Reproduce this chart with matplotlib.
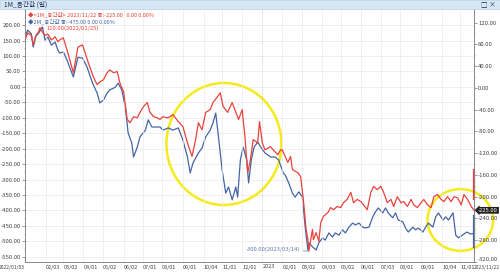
import pandas as pd
import matplotlib.pyplot as plt
from matplotlib.patches import Ellipse, Rectangle
from matplotlib.ticker import AutoMinorLocator, FormatStrFormatter
import matplotlib.transforms as mtrans

plt.rcParams['font.family'] = ['Noto Sans CJK KR', 'DejaVu Sans']

# trading-day positions (0 = 2022/01/03) and values
red_t = [0, 3, 7, 9, 12, 15, 16, 22, 25, 29, 33, 36, 38, 42, 46, 53, 58, 63, 66, 69,
         75, 79, 82, 86, 90, 93, 97, 101, 104, 108, 112, 115, 119, 123, 126, 130, 134, 137, 141, 145,
         148, 151, 156, 159, 162, 168, 173, 178, 183, 187, 190, 194, 198, 203, 206, 211, 214, 217, 222, 227,
         231, 234, 238, 241, 244, 247, 250, 255, 257, 260, 263, 269, 272, 277, 280, 282, 288, 291, 293, 299,
         302, 305, 308, 310, 311, 315, 316, 319, 322, 324, 327, 332, 335, 338, 342, 346, 349, 353, 357, 360,
         364, 368, 371, 375, 379, 382, 386, 390, 393, 397, 401, 404, 408, 412, 415, 419, 423, 426, 430, 434,
         437, 441, 445, 448, 452, 456, 459, 463, 467, 470, 474, 478, 481, 485, 489, 492]
red_v = [88, 101, 96, 79, 97, 103, 110, 96, 99, 88, 94, 85, 88, 92, 70, 28, 75, 79, 64, 48,
         20, 6, 11, 15, 28, 33, 28, 30, 9, -7, -58, -64, -53, -55, -45, -34, -27, -45, -53, -55,
         -58, -53, -55, -53, -49, -62, -71, -101, -126, -95, -64, -77, -45, -40, -27, -16, -9, -34, -45, -27,
         -45, -58, -40, -90, -156, -132, -95, -101, -62, -101, -114, -108, -114, -123, -114, -114, -137, -126, -150, -156,
         -163, -205, -260, -279, -300, -260, -279, -266, -282, -248, -236, -229, -220, -224, -218, -220, -211, -205, -192, -211,
         -205, -209, -215, -224, -192, -181, -187, -181, -192, -211, -205, -218, -200, -211, -209, -218, -205, -215, -220, -211,
         -205, -215, -220, -200, -196, -205, -209, -200, -209, -200, -202, -215, -196, -205, -218, -225]

blue_t = [0, 3, 7, 9, 12, 15, 19, 22, 25, 29, 33, 36, 38, 42, 46, 53, 58, 63, 68, 74,
          79, 82, 86, 90, 93, 99, 102, 106, 110, 113, 117, 119, 123, 126, 132, 135, 139, 145, 148, 151,
          157, 162, 168, 173, 178, 181, 184, 190, 194, 198, 203, 206, 209, 212, 216, 220, 223, 227, 231, 233,
          236, 239, 243, 245, 248, 251, 255, 259, 263, 269, 274, 278, 283, 285, 289, 293, 296, 300, 304, 307,
          310, 311, 315, 319, 322, 326, 329, 333, 337, 340, 344, 348, 351, 355, 359, 362, 366, 370, 373, 377,
          381, 384, 387, 392, 395, 398, 403, 406, 409, 414, 417, 420, 425, 428, 431, 436, 439, 442, 447, 450,
          453, 458, 461, 464, 469, 472, 475, 478, 484, 488, 492]
blue_v = [161, 184, 171, 129, 164, 174, 194, 151, 161, 135, 145, 119, 109, 113, 87, 32, 96, 93, 64, 12,
          -20, -52, -43, -20, -10, -1, 12, -10, -65, -149, -182, -227, -195, -162, -140, -107, -130, -130, -130, -140,
          -133, -140, -133, -172, -227, -279, -247, -214, -198, -162, -140, -117, -85, -162, -269, -344, -324, -366, -324, -357,
          -237, -195, -237, -311, -237, -195, -179, -198, -214, -227, -227, -237, -279, -285, -311, -344, -357, -340, -357, -454,
          -528, -505, -518, -528, -505, -489, -496, -473, -486, -473, -480, -463, -473, -454, -441, -447, -441, -454, -457, -454,
          -421, -405, -392, -408, -392, -408, -424, -408, -431, -437, -457, -470, -454, -463, -457, -470, -454, -441, -454, -421,
          -408, -431, -421, -431, -408, -480, -489, -483, -470, -476, -475]

tick_dates = ['2022-01-03', '2022-02-03', '2022-03-02', '2022-04-01', '2022-05-02', '2022-06-02',
              '2022-07-01', '2022-08-01', '2022-09-01', '2022-10-04', '2022-11-01', '2022-12-01',
              '2023-01-02', '2023-02-01', '2023-03-02', '2023-04-03', '2023-05-02', '2023-06-01',
              '2023-07-03', '2023-08-01', '2023-09-01', '2023-10-04', '2023-11-01', '2023-11-22']
tick_labels = ['2022/01/03', '02/03', '03/02', '04/01', '05/02', '06/02', '07/01', '08/01', '09/01',
               '10/04', '11/01', '12/01', '2023', '02/01', '03/02', '04/03', '05/02', '06/01',
               '07/03', '08/01', '09/01', '10/04', '11/01', '2023/11/22']

RED = '#e8423c'
BLUE = '#4565a5'
TXT = '#444444'

cal = pd.bdate_range('2022-01-03', '2023-11-22')
tick_pos = cal.get_indexer(pd.to_datetime(tick_dates))

fig = plt.figure(figsize=(5, 2.72), dpi=100)
W, H = 500, 272

# title bar
fig.patches.append(Rectangle((0, 1 - 9 / H), 1, 9 / H, transform=fig.transFigure,
                             facecolor='#d6e6f4', edgecolor='#b9cfe4', lw=0.5))
fig.text(4 / W, 1 - 4.5 / H, '1M_응간값 (일)', fontsize=4.8, color='#1d2f55', va='center')
fig.text(488 / W, 1 - 4.5 / H, '□ ×', fontsize=4.8, color='#1d2f55', va='center', ha='center')

ax = fig.add_axes([25 / W, 1 - 262 / H, 449 / W, 253 / H])
ax2 = ax.twinx()

ax.plot(blue_t, blue_v, color=BLUE, lw=0.9)
ax2.plot(red_t, red_v, color=RED, lw=0.9)

ax.set_xlim(0, len(cal) - 1)
ax.set_ylim(-567, 252)
ax2.set_ylim(-320, 145)

ax.set_yticks(range(-550, 201, 50))
ax2.set_yticks(range(-320, 121, 40))
for a in (ax, ax2):
    a.yaxis.set_major_formatter(FormatStrFormatter('%.2f'))
    a.yaxis.set_minor_locator(AutoMinorLocator(2))
    a.tick_params(axis='y', labelsize=4.3, labelcolor=TXT, length=2, width=0.5, color='#777777', pad=1)
    a.tick_params(axis='y', which='minor', length=1, width=0.4, color='#777777')
    for s in a.spines.values():
        s.set_color('#888888')
        s.set_linewidth(0.6)
    a.spines['top'].set_visible(False)
# lowest right label sits just above the date row
ax2.get_yticklabels()[0].set_va('bottom')

ax.set_xticks(tick_pos)
ax.set_xticklabels(tick_labels)
ax.tick_params(axis='x', labelsize=4.0, labelcolor=TXT, length=0, pad=1.8)
xl = ax.get_xticklabels()
for i, lab in enumerate(xl):
    lab.set_ha('right' if i == 0 else 'left')
# end labels are squeezed to fit the figure edges
xl[0].set_fontsize(3.6)
xl[-1].set_fontsize(3.6)

ax.grid(axis='y', color='#eaeaea', lw=0.5)
for i, p in enumerate(tick_pos[1:-1]):
    if tick_labels[i + 1] == '2023':
        ax.axvline(p, color='#b8b8c8', lw=0.6, ls=':')
    else:
        ax.axvline(p, color='#eaeaea', lw=0.5)
ax.set_axisbelow(True)

# legend lines
ax.text(0.006, 0.99, '◆<1M_응간값> 2023/11/22 종:-225.00   0.00 0.00%', transform=ax.transAxes,
        fontsize=4.0, color=RED, va='top')
ax.text(0.006, 0.96, '◆2M_응간값 종:-475.00 0.00 0.00%', transform=ax.transAxes,
        fontsize=4.0, color=BLUE, va='top')

# high / low marks
ax2.annotate('110.00(2022/01/25)', xy=(red_t[6], red_v[6]), xytext=(5, 0), textcoords='offset points',
             fontsize=4.2, color=RED, va='center',
             arrowprops=dict(arrowstyle='-', color=RED, lw=0.5, shrinkA=0, shrinkB=0))
lo = red_v.index(min(red_v))
ax2.annotate('-300.00(2023/03/14)', xy=(red_t[lo], red_v[lo]), xytext=(-6, 1), textcoords='offset points',
             fontsize=4.2, color='#5d79b5', va='center', ha='right',
             arrowprops=dict(arrowstyle='-', color='#5d79b5', lw=0.5, shrinkA=0, shrinkB=0))

# last value markers on the right axis
tr = mtrans.blended_transform_factory(ax2.transAxes, ax2.transData)
ax2.plot([1, 1], [-150, red_v[-1] + 20], color=RED, lw=1.6, transform=tr, clip_on=False)
ax2.plot([1, 1], [red_v[-1] - 10, -292], color=BLUE, lw=1.6, transform=tr, clip_on=False)
ax2.annotate('%.2f' % red_v[-1], xy=(1, red_v[-1]), xycoords=tr, xytext=(3, 0), textcoords='offset points',
             fontsize=4.2, color='white', va='center',
             bbox=dict(boxstyle='larrow,pad=0.15', fc='#222222', ec='none'))

# yellow highlight circles
ax.add_patch(Ellipse((218, -185), 126, 395, fill=False, ec='#f7ea1a', lw=1.8, clip_on=False))
ax.add_patch(Ellipse((477, -431), 72, 200, fill=False, ec='#f7ea1a', lw=1.8, clip_on=False))

fig.savefig('out.png', dpi=100)
